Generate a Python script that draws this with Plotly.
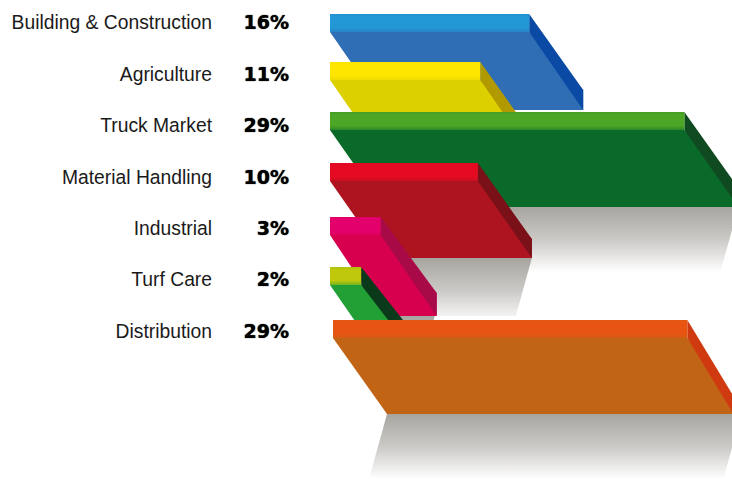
import plotly.graph_objects as go

categories = ["Building & Construction", "Agriculture", "Truck Market", "Material Handling",
              "Industrial", "Turf Care", "Distribution"]
share_labels = [16, 11, 29, 10, 3, 2, 29]
# visible bar length, in percent-like units
bar_lengths = [16.3, 12.3, 29.0, 12.1, 4.15, 2.55, 29.0]

top_colors = ["#2298d6", "#ffe600", "#4da625", "#e50a22", "#e4006c", "#bfc80a", "#e85512"]
front_colors = ["#2f6db5", "#dcd000", "#0a6a2a", "#ae1320", "#d6004f", "#22a035", "#c26416"]
side_colors = ["#0a4aa5", "#b09a00", "#0f4a20", "#7a1018", "#a80a48", "#0a3a1a", "#d03a10"]

ROW_TOPS = [14, 62, 112, 163, 217, 267, 320]
ROW_LEFT = [330, 330, 330, 330, 330, 330, 333]
BODY_H = [96, 96, 95, 95, 99, 96, 94]
SIDE_DX = [54, 54, 54, 54, 56, 60, 46]
SHADOW_H = [0, 0, 65, 58, 4, 0, 65]
PX_PER_UNIT = 12.22
FACE_H, DEPTH_X, DEPTH_Y = 18, 54, 76
SHADOW_FADE, SHADOW_DX = 65, 18
LABEL_X, PCT_X = 212, 289
label_y = [24, 76, 127, 179, 230, 281, 333]

fig = go.Figure()


def mix(a, b, t):
    pa = [int(a[k:k + 2], 16) for k in (1, 3, 5)]
    pb = [int(b[k:k + 2], 16) for k in (1, 3, 5)]
    return "#" + "".join(f"{round(p + (q - p) * t):02x}" for p, q in zip(pa, pb))


def poly(xs, ys, color=None, grad=None):
    kw = dict(x=xs + xs[:1], y=ys + ys[:1], mode="lines", fill="toself", line=dict(width=0),
              hoverinfo="skip", showlegend=False)
    if grad:
        kw["fillgradient"] = grad
    else:
        kw["fillcolor"] = color
    fig.add_trace(go.Scatter(**kw))


for i, length in enumerate(bar_lengths):
    x0, y0 = ROW_LEFT[i], ROW_TOPS[i]
    x1 = x0 + length * PX_PER_UNIT
    y_face = y0 + FACE_H
    y_bot = y0 + BODY_H[i]
    fl, fr = x0 + DEPTH_X, x1 + SIDE_DX[i]
    # shadow below the bar
    if SHADOW_H[i]:
        h = SHADOW_H[i]
        d = SHADOW_DX * h / SHADOW_FADE
        sr = x1 + DEPTH_X
        poly([fl, sr, sr - d, fl - d], [y_bot, y_bot, y_bot + h, y_bot + h],
             grad=dict(type="vertical", start=y_bot, stop=y_bot + SHADOW_FADE,
                       colorscale=[[0, "#a8a5a0"], [0.5, "#cbc9c6"], [1, "#ffffff"]]))
    # front face
    poly([x0, x1, fr, fr, fl], [y_face, y_face, y0 + DEPTH_Y, y_bot, y_bot], front_colors[i])
    # side face
    poly([x1, fr, fr, x1], [y0, y0 + DEPTH_Y, y_bot, y_face], side_colors[i])
    # top face, softly blending into the front colour at its lower edge
    poly([x0, x1, x1, x0], [y0, y0, y_face, y_face],
         grad=dict(type="vertical", start=y0, stop=y_face,
                   colorscale=[[0, mix(top_colors[i], front_colors[i], 0.15)], [0.15, top_colors[i]],
                               [0.75, top_colors[i]], [1, mix(top_colors[i], front_colors[i], 0.5)]]))

fig.add_trace(go.Scatter(x=[LABEL_X] * len(categories), y=label_y, text=categories, mode="text",
                         textposition="middle left", hoverinfo="skip", showlegend=False,
                         textfont=dict(family="Liberation Sans", size=19.3, color="#1a1a1a")))
fig.add_trace(go.Scatter(x=[PCT_X] * len(categories), y=label_y, text=[f"{v}%" for v in share_labels],
                         mode="text", textposition="middle left", hoverinfo="skip", showlegend=False,
                         textfont=dict(family="DejaVu Sans", size=19, color="#000000", weight="bold",
                                       shadow="0 0 1px #000")))

fig.update_layout(width=732, height=479, margin=dict(l=0, r=0, t=0, b=0),
                  paper_bgcolor="white", plot_bgcolor="white", showlegend=False,
                  xaxis=dict(range=[0, 732], visible=False, fixedrange=True),
                  yaxis=dict(range=[479, 0], visible=False, fixedrange=True))
fig.write_html("out.html", config=dict(displayModeBar=False),
               post_script="document.body.style.margin='0';document.body.style.overflow='hidden';")
